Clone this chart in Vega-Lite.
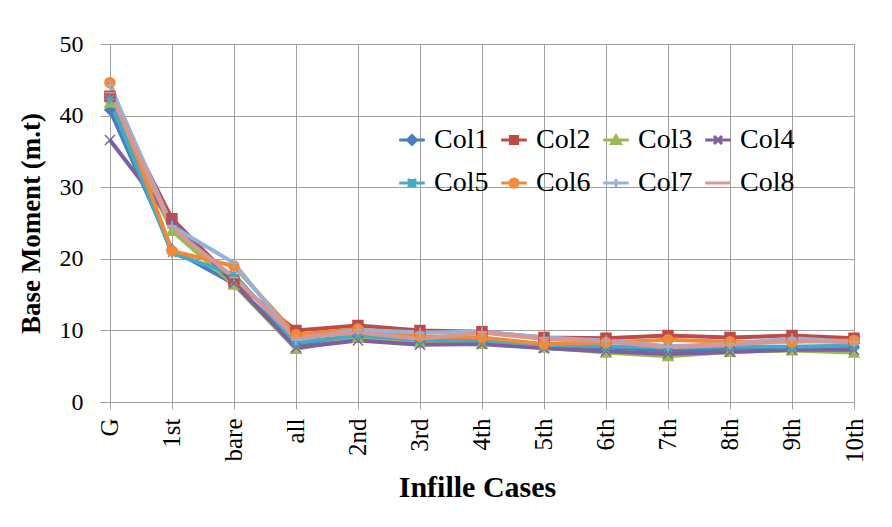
{
  "$schema": "https://vega.github.io/schema/vega-lite/v6.json",
  "width": 754,
  "height": 358,
  "autosize": "none",
  "padding": {"left": 100, "top": 44, "right": 38, "bottom": 125},
  "background": "white",
  "config": {
    "font": "Liberation Serif",
    "view": {"stroke": null},
    "axis": {"gridColor": "#A0A0A0", "gridWidth": 1, "gridOpacity": 1, "domainColor": "#A0A0A0", "tickColor": "#A0A0A0", "labelColor": "black", "titleColor": "black", "labelFont": "Liberation Serif", "titleFont": "Liberation Serif"}
  },
  "data": {
    "values": [
      {"case": "G", "Col1": 40.8, "Col2": 42.7, "Col3": 41.8, "Col4": 36.6, "Col5": 42.3, "Col6": 44.6, "Col7": 44.2, "Col8": 43.2},
      {"case": "1st", "Col1": 21.3, "Col2": 25.6, "Col3": 23.9, "Col4": 25.3, "Col5": 20.8, "Col6": 21.1, "Col7": 24.6, "Col8": 24.3},
      {"case": "bare", "Col1": 16.5, "Col2": 16.9, "Col3": 16.4, "Col4": 16.6, "Col5": 17.8, "Col6": 19.0, "Col7": 19.4, "Col8": 17.4},
      {"case": "all", "Col1": 8.0, "Col2": 10.0, "Col3": 7.4, "Col4": 7.6, "Col5": 8.3, "Col6": 9.4, "Col7": 8.7, "Col8": 9.0},
      {"case": "2nd", "Col1": 9.2, "Col2": 10.7, "Col3": 9.0, "Col4": 8.6, "Col5": 9.3, "Col6": 10.2, "Col7": 10.1, "Col8": 9.7},
      {"case": "3rd", "Col1": 8.3, "Col2": 10.0, "Col3": 8.3, "Col4": 8.0, "Col5": 8.7, "Col6": 9.2, "Col7": 9.7, "Col8": 8.8},
      {"case": "4th", "Col1": 8.4, "Col2": 9.8, "Col3": 8.1, "Col4": 8.1, "Col5": 8.6, "Col6": 9.0, "Col7": 9.8, "Col8": 9.7},
      {"case": "5th", "Col1": 7.9, "Col2": 9.0, "Col3": 7.6, "Col4": 7.5, "Col5": 8.0, "Col6": 8.1, "Col7": 9.0, "Col8": 8.8},
      {"case": "6th", "Col1": 7.6, "Col2": 8.9, "Col3": 6.9, "Col4": 7.1, "Col5": 7.8, "Col6": 8.3, "Col7": 8.6, "Col8": 8.5},
      {"case": "7th", "Col1": 7.2, "Col2": 9.3, "Col3": 6.4, "Col4": 6.7, "Col5": 7.6, "Col6": 8.7, "Col7": 7.8, "Col8": 7.6},
      {"case": "8th", "Col1": 7.4, "Col2": 9.0, "Col3": 7.0, "Col4": 7.0, "Col5": 7.8, "Col6": 8.4, "Col7": 8.1, "Col8": 8.0},
      {"case": "9th", "Col1": 7.6, "Col2": 9.3, "Col3": 7.2, "Col4": 7.3, "Col5": 7.7, "Col6": 8.4, "Col7": 8.9, "Col8": 8.6},
      {"case": "10th", "Col1": 7.6, "Col2": 8.9, "Col3": 6.9, "Col4": 7.3, "Col5": 7.9, "Col6": 8.6, "Col7": 8.4, "Col8": 8.3}
    ]
  },
  "transform": [
    {"fold": ["Col1", "Col2", "Col3", "Col4", "Col5", "Col6", "Col7", "Col8"], "as": ["series", "value"]}
  ],
  "encoding": {
    "x": {
      "field": "case", "type": "ordinal",
      "sort": ["G", "1st", "bare", "all", "2nd", "3rd", "4th", "5th", "6th", "7th", "8th", "9th", "10th"],
      "scale": {"type": "point", "padding": 0.08, "align": 1},
      "axis": {"title": "Infille Cases", "titleFontSize": 30, "titleFontWeight": "bold", "titlePadding": 10, "labelAngle": 270, "labelFontSize": 25, "labelPadding": 9, "tickSize": 7, "grid": true, "domain": true}
    },
    "y": {
      "field": "value", "type": "quantitative",
      "scale": {"domain": [0, 50], "nice": false},
      "axis": {"title": "Base Moment (m.t)", "titleFontSize": 27, "titleFontWeight": "bold", "titlePadding": 14, "labelFontSize": 24, "labelPadding": 17, "ticks": false, "domain": false, "grid": true, "values": [0, 10, 20, 30, 40, 50]}
    }
  },
  "layer": [
    {
      "mark": {"type": "line", "strokeWidth": 4},
      "encoding": {
        "color": {
          "field": "series", "type": "nominal",
          "scale": {"domain": ["Col1", "Col2", "Col3", "Col4", "Col5", "Col6", "Col7", "Col8"], "range": ["#4A7EBB", "#BE4B48", "#98B954", "#7D60A0", "#46AAC5", "#F08A3A", "#95B3D7", "#D99694"]},
          "legend": null
        }
      }
    },
    {
      "mark": {"type": "point", "filled": true, "size": 100, "opacity": 1, "strokeWidth": 1.5},
      "encoding": {
        "color": {
          "field": "series", "type": "nominal",
          "scale": {"domain": ["Col1", "Col2", "Col3", "Col4", "Col5", "Col6", "Col7", "Col8"], "range": ["#4A7EBB", "#BE4B48", "#98B954", "#7D60A0", "#46AAC5", "#F08A3A", "#95B3D7", "#D99694"]},
          "legend": null
        },
        "shape": {
          "field": "series", "type": "nominal",
          "scale": {"domain": ["Col1", "Col2", "Col3", "Col4", "Col5", "Col6", "Col7", "Col8"], "range": ["diamond", "square", "triangle-up", "M-1,-1L1,1M-1,1L1,-1", "M0,-1L0,1M-1,0L1,0M-0.8,-0.8L0.8,0.8M-0.8,0.8L0.8,-0.8", "circle", "M-1,0L1,0M0,-1L0,1", "M-1,0L1,0"]},
          "legend": null
        },
        "stroke": {
          "field": "series", "type": "nominal",
          "scale": {"domain": ["Col1", "Col2", "Col3", "Col4", "Col5", "Col6", "Col7", "Col8"], "range": ["#4A7EBB", "#BE4B48", "#98B954", "#7D60A0", "#46AAC5", "#F08A3A", "#95B3D7", "#D99694"]},
          "legend": null
        }
      }
    },
    {
      "mark": {"type": "point", "filled": true, "size": 64, "opacity": 0},
      "encoding": {
        "color": {
          "field": "series", "type": "nominal",
          "scale": {"domain": ["Col1", "Col2", "Col3", "Col4", "Col5", "Col6", "Col7", "Col8"], "range": ["#4A7EBB", "#BE4B48", "#98B954", "#7D60A0", "#46AAC5", "#F08A3A", "#95B3D7", "#D99694"]},
          "legend": {
            "title": null, "orient": "none", "direction": "horizontal", "legendX": 298, "legendY": 82, "columns": 4,
            "symbolSize": 64, "symbolOpacity": 1, "symbolStrokeWidth": 3,
            "labelFont": "Liberation Serif", "labelFontSize": 28, "labelColor": "black", "labelOffset": 8,
            "columnPadding": 6, "rowPadding": 15
          }
        },
        "stroke": {
          "field": "series", "type": "nominal",
          "scale": {"domain": ["Col1", "Col2", "Col3", "Col4", "Col5", "Col6", "Col7", "Col8"], "range": ["#4A7EBB", "#BE4B48", "#98B954", "#7D60A0", "#46AAC5", "#F08A3A", "#95B3D7", "#D99694"]},
          "legend": {
            "title": null, "orient": "none", "direction": "horizontal", "legendX": 298, "legendY": 82, "columns": 4,
            "symbolSize": 64, "symbolOpacity": 1, "symbolStrokeWidth": 3,
            "labelFont": "Liberation Serif", "labelFontSize": 28, "labelColor": "black", "labelOffset": 8,
            "columnPadding": 6, "rowPadding": 15
          }
        },
        "shape": {
          "field": "series", "type": "nominal",
          "scale": {"domain": ["Col1", "Col2", "Col3", "Col4", "Col5", "Col6", "Col7", "Col8"], "range": [
            "M-3.2,0L3.2,0M0,-1.1L1.1,0L0,1.1L-1.1,0Z",
            "M-3.2,0L3.2,0M-0.9,-0.9L0.9,-0.9L0.9,0.9L-0.9,0.9Z",
            "M-3.2,0L3.2,0M0,-1L1.1,0.9L-1.1,0.9Z",
            "M-3.2,0L3.2,0M-1,-1L1,1M-1,1L1,-1",
            "M-3.2,0L3.2,0M0,-1L0,1M-1,-1L1,1M-1,1L1,-1",
            "M-3.2,0L3.2,0M1,0A1,1,0,1,1,-1,0A1,1,0,1,1,1,0Z",
            "M-3.2,0L3.2,0M0,-1L0,1",
            "M-3.2,0L3.2,0"
          ]},
          "legend": {
            "title": null, "orient": "none", "direction": "horizontal", "legendX": 298, "legendY": 82, "columns": 4,
            "symbolSize": 64, "symbolOpacity": 1, "symbolStrokeWidth": 3,
            "labelFont": "Liberation Serif", "labelFontSize": 28, "labelColor": "black", "labelOffset": 8,
            "columnPadding": 6, "rowPadding": 15
          }
        }
      }
    }
  ],
  "resolve": {"scale": {"shape": "independent"}, "legend": {"shape": "independent", "color": "independent", "stroke": "independent"}}
}
